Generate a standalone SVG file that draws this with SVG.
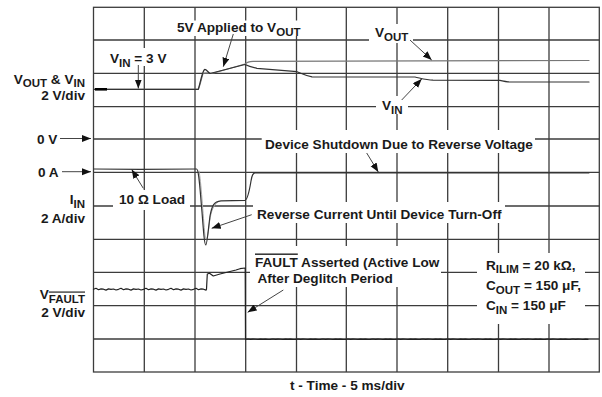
<svg xmlns="http://www.w3.org/2000/svg" width="602" height="397" viewBox="0 0 602 397">
<style>
.g{stroke:#3c3c3c;stroke-width:1.3;fill:none}
.bg{fill:#fff}
text{font-family:"Liberation Sans",Arial,Helvetica,sans-serif;font-weight:bold;font-size:13.6px;fill:#1a1a1a}
.s{font-size:11.5px}
.ov{text-decoration:overline}
.e{text-anchor:end}
.tr{fill:none;stroke-linejoin:round;stroke-linecap:round}
.a{stroke:#444;stroke-width:1;fill:none;marker-end:url(#ah)}
</style>
<defs>
<marker id="ah" markerWidth="10" markerHeight="8" refX="9" refY="3.5" orient="auto" markerUnits="userSpaceOnUse">
<path d="M0,0 L9,3.5 L0,7 Z" fill="#111"/>
</marker>
</defs>
<rect width="602" height="397" fill="#fff"/>
<g id="grid" class="g">
<rect x="93.5" y="7.3" width="505.8" height="364.7"/>
<path d="M144.3,7.3V372M195,7.3V372M245.7,7.3V372M296.5,7.3V372M346.3,7.3V372M397,7.3V372M447.7,7.3V372M498.5,7.3V372M549,7.3V372"/>
<path d="M93.5,40H599.3M93.5,73.3H599.3M93.5,106.7H599.3M93.5,139H599.3M93.5,172.3H599.3M93.5,206H599.3M93.5,239.3H599.3M93.5,272.3H599.3M93.5,305.7H599.3M93.5,339H599.3"/>
</g>
<g id="label-backgrounds" class="bg">
<rect x="173" y="20.5" width="130" height="15.5"/>
<rect x="106" y="48" width="64" height="18"/>
<rect x="369" y="24" width="44" height="19"/>
<rect x="376" y="96" width="32" height="18"/>
<rect x="261.7" y="130" width="273.3" height="23"/>
<rect x="113" y="190" width="77" height="20"/>
<rect x="253" y="202" width="252" height="21"/>
<rect x="250" y="246" width="191" height="41"/>
<rect x="477" y="253" width="108" height="71"/>
</g>
<g id="traces">
<path class="tr" stroke="#777" stroke-width="1.2" d="M93.5,89.3 L198.3,89.3 C200,86 201.5,78 203,73.5 C205,72.5 207,73.5 212,73.5 L245,64 C247,62 249,61.5 253,61.3 L589,60.5"/>
<path class="tr" stroke="#333" stroke-width="1.2" d="M93.5,89.3 L198.3,89.3 C200,84 202,72 204.5,69.5 C206.5,69 207.5,72 210,73.5 L245,64.5 C248,66 251,67 257,68.3 L297,71.7 C302,73.5 306,76 312,76.8 L415,77 C420,78 426,80 433,80.2 L500,80.4 C503,81 505,81.6 508,81.8 L589,82"/>
<path stroke="#000" stroke-width="2.6" d="M95,89.3H107"/>
<path class="tr" stroke="#aaa" stroke-width="1" d="M199,171 C201,180 203,215 205,236 C206.5,243 207.5,238 209,226 C210.5,214 212,206 218,202"/>
<path class="tr" stroke="#333" stroke-width="1.2" d="M93.5,169 L140,169.3 L196.5,169 C199,169 200,190 202,212 C203.5,232 204.5,245 205.8,245 C207,245 208,232 210,216 C212,205 214,201.5 221,200.8 L245,200.4 C248,199.5 249.5,190 251,181 C252,175 253,172.8 256,172.7 L589,172.8"/>
<path class="tr" stroke="#222" stroke-width="1.2" d="M93.5,289.3 l2.5,-1 2.5,1.4 2.5,-0.8 2.5,0.3 2.5,0.9 2.5,-1.2 2.5,0.5 2.5,-0.4 2.5,1 2.5,-0.7 l2.5,-1 2.5,1.4 2.5,-0.8 2.5,0.3 2.5,0.9 2.5,-1.2 2.5,0.5 2.5,-0.4 2.5,1 2.5,-0.7 l2.5,-1 2.5,1.4 2.5,-0.8 2.5,0.3 2.5,0.9 2.5,-1.2 2.5,0.5 2.5,-0.4 2.5,1 2.5,-0.7 l2.5,-1 2.5,1.4 2.5,-0.8 2.5,0.3 2.5,0.9 2.5,-1.2 2.5,0.5 2.5,-0.4 2.5,1 2.5,-0.7 l2.5,-1 2.5,1.4 2.5,-0.8 2.5,0.3 2.5,0.9 L206.5,289.3 L207.3,274 L209.5,273.2 L213.3,276 L220,274 L228,272 L236,270 L240,268.7 L245.2,268 L245.5,339.3 l2.5,-0.3 2.5,0.4 2.5,-0.25 2.5,0.1 2.5,0.25 2.5,-0.35 2.5,0.15 2.5,-0.1 2.5,0.3 2.5,-0.2 l2.5,-0.3 2.5,0.4 2.5,-0.25 2.5,0.1 2.5,0.25 2.5,-0.35 2.5,0.15 2.5,-0.1 2.5,0.3 2.5,-0.2 l2.5,-0.3 2.5,0.4 2.5,-0.25 2.5,0.1 2.5,0.25 2.5,-0.35 2.5,0.15 2.5,-0.1 2.5,0.3 2.5,-0.2 l2.5,-0.3 2.5,0.4 2.5,-0.25 2.5,0.1 2.5,0.25 2.5,-0.35 2.5,0.15 2.5,-0.1 2.5,0.3 2.5,-0.2 l2.5,-0.3 2.5,0.4 2.5,-0.25 2.5,0.1 2.5,0.25 2.5,-0.35 2.5,0.15 2.5,-0.1 2.5,0.3 2.5,-0.2 l2.5,-0.3 2.5,0.4 2.5,-0.25 2.5,0.1 2.5,0.25 2.5,-0.35 2.5,0.15 2.5,-0.1 2.5,0.3 2.5,-0.2 l2.5,-0.3 2.5,0.4 2.5,-0.25 2.5,0.1 2.5,0.25 2.5,-0.35 2.5,0.15 2.5,-0.1 2.5,0.3 2.5,-0.2 l2.5,-0.3 2.5,0.4 2.5,-0.25 2.5,0.1 2.5,0.25 2.5,-0.35 2.5,0.15 2.5,-0.1 2.5,0.3 2.5,-0.2 l2.5,-0.3 2.5,0.4 2.5,-0.25 2.5,0.1 2.5,0.25 2.5,-0.35 2.5,0.15 2.5,-0.1 2.5,0.3 2.5,-0.2 l2.5,-0.3 2.5,0.4 2.5,-0.25 2.5,0.1 2.5,0.25 2.5,-0.35 2.5,0.15 2.5,-0.1 2.5,0.3 2.5,-0.2 l2.5,-0.3 2.5,0.4 2.5,-0.25 2.5,0.1 2.5,0.25 2.5,-0.35 2.5,0.15 2.5,-0.1 2.5,0.3 2.5,-0.2 l2.5,-0.3 2.5,0.4 2.5,-0.25 2.5,0.1 2.5,0.25 2.5,-0.35 2.5,0.15 2.5,-0.1 2.5,0.3 2.5,-0.2 l2.5,-0.3 2.5,0.4 2.5,-0.25 2.5,0.1 2.5,0.25 2.5,-0.35 2.5,0.15 2.5,-0.1 2.5,0.3 2.5,-0.2 l2.5,-0.3 2.5,0.4 2.5,-0.25 2.5,0.1 2.5,0.25 2.5,-0.35 2.5,0.15"/>
</g>
<g id="connectors">
<path class="a" d="M138.3,65 L138.3,88.5"/>
<path class="a" d="M233.3,34 L223.3,66.7"/>
<path class="a" d="M410,40 L431.7,60"/>
<path class="a" d="M401.7,100 L421.7,79"/>
<path class="a" d="M366.7,153 L378.3,172"/>
<path class="a" d="M143.3,188.3 L131.7,169.5"/>
<path class="a" d="M251.7,214.7 L211.7,228.3"/>
<path class="a" d="M283.3,290 L247.7,312.3"/>
<path class="a" d="M60,138.5 L91,138.5"/>
<path class="a" d="M62,171.7 L91,171.7"/>
</g>
<g id="label-vin-3v"><text x="110" y="63">V<tspan class="s" dy="3.5">IN</tspan><tspan dy="-3.5"> = 3 V</tspan></text></g>
<g id="label-5v-applied"><text x="177" y="32">5V Applied to V<tspan class="s" dy="3.5">OUT</tspan></text></g>
<g id="label-vout"><text x="375" y="37">V<tspan class="s" dy="3.5">OUT</tspan></text></g>
<g id="label-vin"><text x="382" y="110">V<tspan class="s" dy="3.5">IN</tspan></text></g>
<g id="axis-vout-vin"><text class="e" x="85" y="83.5">V<tspan class="s" dy="3.5">OUT</tspan><tspan dy="-3.5"> &amp; V</tspan><tspan class="s" dy="3.5">IN</tspan></text><text class="e" x="85" y="100">2 V/div</text></g>
<g id="axis-0v"><text x="37" y="143.5">0 V</text></g>
<g id="axis-0a"><text x="38" y="176.5">0 A</text></g>
<g id="axis-iin"><text class="e" x="85" y="204">I<tspan class="s" dy="3.5">IN</tspan></text><text class="e" x="85" y="223">2 A/div</text></g>
<g id="axis-vfault"><text class="e" x="85" y="299">V<tspan class="s ov" dy="3.5">FAULT</tspan></text><text class="e" x="85" y="316.5">2 V/div</text></g>
<g id="label-shutdown"><text x="265" y="148.5">Device Shutdown Due to Reverse Voltage</text></g>
<g id="label-load"><text x="119" y="204">10 Ω Load</text></g>
<g id="label-reverse"><text x="257" y="218.5">Reverse Current Until Device Turn-Off</text></g>
<g id="label-fault"><text x="255" y="266.5"><tspan class="ov">FAULT</tspan> Asserted (Active Low</text><text x="257.5" y="282.5">After Deglitch Period</text></g>
<g id="label-params"><text x="486" y="269.5">R<tspan class="s" dy="3.5">ILIM</tspan><tspan dy="-3.5"> = 20 kΩ,</tspan></text><text x="486" y="290">C<tspan class="s" dy="3.5">OUT</tspan><tspan dy="-3.5"> = 150 μF,</tspan></text><text x="486" y="310">C<tspan class="s" dy="3.5">IN</tspan><tspan dy="-3.5"> = 150 μF</tspan></text></g>
<g id="axis-time"><text x="290" y="390">t - Time - 5 ms/div</text></g>
</svg>
